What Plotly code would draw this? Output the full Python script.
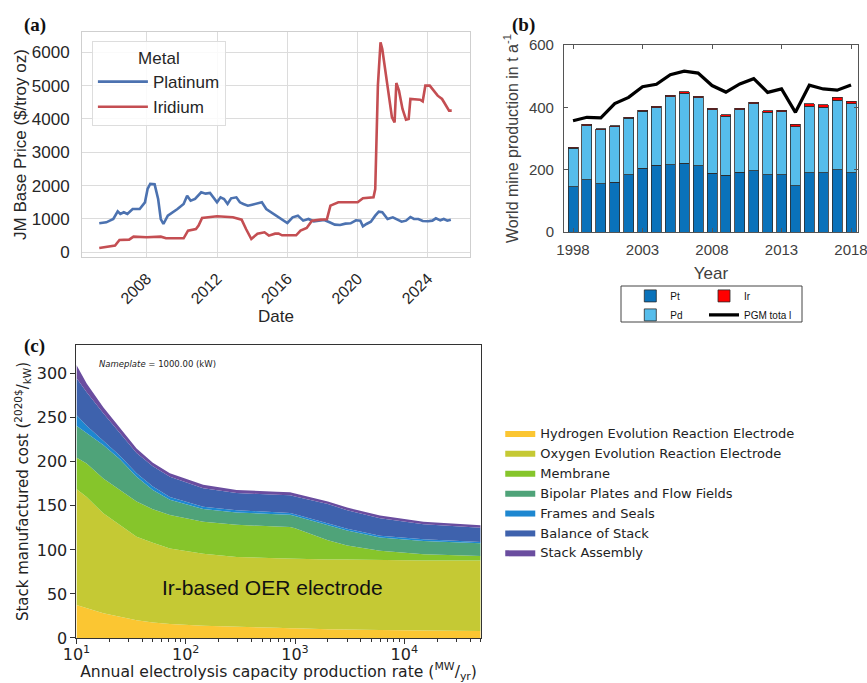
import plotly.graph_objects as go

# ---------------- (a) JM base price ----------------
pt_year = [2005.3, 2005.7, 2006.1, 2006.35, 2006.5, 2006.7, 2006.9, 2007.2, 2007.6, 2007.9,
           2008.05, 2008.2, 2008.45, 2008.65, 2008.8, 2008.95, 2009.2, 2009.5, 2009.75, 2010.1,
           2010.3, 2010.5, 2010.75, 2011.1, 2011.35, 2011.6, 2011.85, 2012.0, 2012.2, 2012.4,
           2012.6, 2012.8, 2013.1, 2013.3, 2013.5, 2013.75, 2014.0, 2014.3, 2014.55, 2014.8,
           2015.1, 2015.4, 2015.7, 2016.0, 2016.3, 2016.6, 2016.9, 2017.2, 2017.5, 2017.8,
           2018.1, 2018.4, 2018.7, 2019.0, 2019.3, 2019.6, 2019.9, 2020.15, 2020.3, 2020.5,
           2020.75, 2021.0, 2021.2, 2021.4, 2021.7, 2022.0, 2022.2, 2022.5, 2022.75, 2023.0,
           2023.2, 2023.45, 2023.7, 2024.0, 2024.25, 2024.45, 2024.7, 2024.9, 2025.1, 2025.3]
pt_price = [870, 900, 1000, 1230, 1150, 1200, 1150, 1300, 1300, 1500,
            1900, 2050, 2040, 1600, 1000, 850, 1100, 1200, 1300, 1450,
            1700, 1550, 1600, 1800, 1760, 1780, 1600, 1500, 1650, 1600,
            1450, 1620, 1650, 1500, 1450, 1400, 1430, 1460, 1500, 1300,
            1200, 1100, 1000, 880, 1050, 1100, 950, 1000, 930, 950,
            970, 900, 830, 820, 860, 870, 960, 950, 780, 850,
            920, 1100, 1220, 1200, 1000, 1050, 1000, 920, 950, 1060,
            1000, 1000, 940, 930, 950, 1020, 960, 1000, 950, 980]

ir_year = [2005.3, 2005.9, 2006.2, 2006.45, 2007.0, 2007.25, 2008.0, 2008.8, 2009.1, 2010.1,
           2010.35, 2010.8, 2010.95, 2011.15, 2011.6, 2012.0, 2012.9, 2013.4, 2013.65, 2013.95,
           2014.3, 2014.7, 2014.95, 2015.3, 2015.5, 2015.7, 2016.5, 2016.75, 2017.1, 2017.4,
           2017.9, 2018.25, 2018.45, 2018.9, 2020.0, 2020.3, 2020.9, 2021.0, 2021.15, 2021.3,
           2021.4, 2021.6, 2021.8, 2021.95, 2022.1, 2022.2, 2022.35, 2022.55, 2022.75, 2022.9,
           2023.0, 2023.55, 2023.7, 2023.85, 2024.1, 2024.3, 2024.55, 2024.8, 2025.05, 2025.2,
           2025.35]
ir_price = [130, 170, 200, 370, 380, 470, 450, 470, 420, 420,
            650, 700, 800, 1030, 1050, 1080, 1050, 980, 700, 400,
            560, 600, 500, 560, 560, 510, 510, 650, 730, 950,
            980, 990, 1400, 1500, 1500, 1620, 1650, 1900, 5000, 6300,
            6100, 5400, 4600, 4050, 3900, 5080, 4850, 4300, 3980, 4000,
            4600, 4580, 4530, 5000, 5000, 4850, 4700, 4600, 4400, 4250,
            4250]
a_ticks = [2008, 2012, 2016, 2020, 2024]

# ---------------- (b) World mine production ----------------
years_b = list(range(1998, 2019))
pt_prod = [146, 168, 155, 160, 184, 205, 214, 216, 221, 213, 189, 182, 192, 196, 184, 184, 149, 190, 190, 199, 190]
pd_prod = [122, 173, 173, 177, 181, 182, 185, 218, 225, 218, 203, 190, 200, 215, 200, 202, 189, 214, 210, 223, 221]
ir_prod = [4, 4, 4, 4, 4, 4, 4, 4, 4, 4, 5, 5, 5, 5, 5, 5, 7, 8, 9, 10, 8]
pgm_total = [357, 368, 366, 412, 432, 466, 474, 505, 516, 510, 470, 449, 475, 492, 448, 459, 384, 471, 459, 455, 472]
b_ticks = [1998, 2003, 2008, 2013, 2018]

# ---------------- (c) Stack manufactured cost ----------------
rate = [10, 12.4, 17.6, 25, 35.5, 50, 71.6, 144.5, 292, 679, 900, 1000, 2000, 3000, 6000, 15000, 50000]
her = [37.5, 34, 28, 24, 20, 17.5, 16, 14, 12.5, 11.5, 11, 11, 10, 9.5, 9, 8.5, 8]
oer = [131.5, 126, 113.5, 104, 95, 90.5, 85.5, 81.5, 79.5, 79, 79, 79, 79, 79.5, 79.5, 79.5, 80]
membrane = [36, 38, 39.5, 40, 40, 38, 38, 36.5, 36.5, 36, 36, 34.5, 22, 16, 10.5, 7, 5]
bipolar = [36, 35, 38, 35, 28, 22, 17.5, 14.5, 14, 14, 14, 14, 17, 17, 15, 15, 14.5]
frames = [12, 8, 5, 4, 4, 4, 3, 2.5, 2.5, 2, 2, 2, 2, 2, 2, 2, 1.5]
balance = [42, 38, 31, 26, 23, 23, 23, 21, 19.5, 20, 20, 20, 22, 21, 20, 17, 16]
assembly = [15, 10, 7, 5, 5, 4, 4, 4, 3.5, 3.5, 3.5, 3.5, 3, 3, 3, 3, 3]
c_names = ["Hydrogen Evolution Reaction Electrode", "Oxygen Evolution Reaction Electrode", "Membrane",
           "Bipolar Plates and Flow Fields", "Frames and Seals", "Balance of Stack", "Stack Assembly"]
c_colors = ["#FBC632", "#C5C934", "#86C52B", "#4FA379", "#1E87D0", "#3E62AD", "#6A4D9F"]
c_x_ticks = [10, 100, 1000, 10000]
c_x_text = ["10<sup>1</sup>", "10<sup>2</sup>", "10<sup>3</sup>", "10<sup>4</sup>"]
c_y_ticks = [0, 50, 100, 150, 200, 250, 300]

SANS = "Liberation Sans, Arial, sans-serif"
DEJA = "DejaVu Sans, sans-serif"
SERIF = "Liberation Serif, Times New Roman, serif"

fig = go.Figure()

# (a)
fig.add_trace(go.Scatter(x=pt_year, y=pt_price, name="Platinum", mode="lines",
                         line=dict(color="#4C72B0", width=2.6), xaxis="x", yaxis="y", legend="legend"))
fig.add_trace(go.Scatter(x=ir_year, y=ir_price, name="Iridium", mode="lines",
                         line=dict(color="#C44E52", width=2.6), xaxis="x", yaxis="y", legend="legend"))

# (b)
bar_line = dict(color="#2a2a2a", width=0.8)
fig.add_trace(go.Bar(x=years_b, y=pt_prod, name="Pt", width=0.72,
                     marker=dict(color="#0A72BA", line=bar_line), xaxis="x2", yaxis="y2", legend="legend2"))
fig.add_trace(go.Bar(x=years_b, y=pd_prod, name="Pd", width=0.72,
                     marker=dict(color="#56BDEB", line=bar_line), xaxis="x2", yaxis="y2", legend="legend2"))
fig.add_trace(go.Bar(x=years_b, y=ir_prod, name="Ir", width=0.72,
                     marker=dict(color="#FF0000", line=bar_line), xaxis="x2", yaxis="y2", legend="legend4"))
fig.add_trace(go.Scatter(x=years_b, y=pgm_total, name="PGM tota l", mode="lines",
                         line=dict(color="black", width=3.2), xaxis="x2", yaxis="y2", legend="legend4"))

# (c)
for name, vals, col in zip(c_names, [her, oer, membrane, bipolar, frames, balance, assembly], c_colors):
    fig.add_trace(go.Scatter(x=rate, y=vals, name=name, mode="lines", stackgroup="c", legendgroup=name,
                             line=dict(width=0, color=col), fillcolor=col,
                             xaxis="x3", yaxis="y3", legend="legend3"))

grid_a = "#dcdcdc"
fig.update_layout(
    width=867, height=683, margin=dict(l=0, r=0, t=0, b=0, autoexpand=False),
    paper_bgcolor="white", plot_bgcolor="white", barmode="stack",
    font=dict(family=SANS, color="#262626"),
    xaxis=dict(domain=[0.0946, 0.5421], anchor="y", range=[2004.32, 2026.39], automargin=False,
               tickmode="array", tickvals=a_ticks, ticktext=[str(t) for t in a_ticks], tickangle=-45,
               showgrid=True, gridcolor=grid_a, gridwidth=1.2, showline=True, mirror=True, linecolor="#cfcfcf",
               zeroline=False, ticks="", ticklabelstandoff=5, tickfont=dict(family=SANS, size=16, color="#262626"),
               title=dict(text="Date", standoff=2, font=dict(family=SANS, size=17, color="#262626"))),
    yaxis=dict(domain=[0.6237, 0.9531], anchor="x", range=[-141, 6609], automargin=False,
               tickmode="array", tickvals=[0, 1000, 2000, 3000, 4000, 5000, 6000],
               showgrid=True, gridcolor=grid_a, gridwidth=1.2, showline=True, mirror=True, linecolor="#cfcfcf",
               zeroline=False, ticks="", ticklabelstandoff=8, tickfont=dict(family=SANS, size=17, color="#262626"),
               title=dict(text="JM Base Price ($/troy oz)", standoff=0, font=dict(family=SANS, size=17, color="#262626"))),
    xaxis2=dict(domain=[0.6505, 0.9896], anchor="y2", range=[1997.35, 2018.5], automargin=False,
                tickmode="array", tickvals=b_ticks, showgrid=False, zeroline=False, ticklabeloverflow="allow",
                showline=True, mirror="ticks", linecolor="#555555", ticks="inside", ticklen=4, tickcolor="#555555",
                ticklabelstandoff=4, tickfont=dict(family=SANS, size=15, color="#404040"),
                title=dict(text="Year", standoff=10, font=dict(family=SANS, size=17, color="#404040"))),
    yaxis2=dict(domain=[0.6603, 0.9341], anchor="x2", range=[0, 600], automargin=False,
                tickmode="array", tickvals=[0, 200, 400, 600], showgrid=False, zeroline=False,
                showline=True, mirror="ticks", linecolor="#555555", ticks="inside", ticklen=4, tickcolor="#555555",
                ticklabelstandoff=6, tickfont=dict(family=SANS, size=15, color="#404040"),
                title=dict(text="World mine production in t a<sup>-1</sup>", standoff=6,
                           font=dict(family=SANS, size=16, color="#404040"))),
    xaxis3=dict(domain=[0.0882, 0.5544], anchor="y3", type="log", range=[1, 4.699], automargin=False,
                tickmode="array", tickvals=c_x_ticks, ticktext=c_x_text, showgrid=False, zeroline=False,
                showline=True, mirror=True, linecolor="#333333", ticks="outside", ticklen=5, tickcolor="#333333",
                minor=dict(ticks="outside", ticklen=3, tickcolor="#333333", showgrid=False,
                           tickvals=[m * 10 ** k for k in range(1, 5) for m in range(2, 10)]),
                ticklabelstandoff=-3, tickfont=dict(family=DEJA, size=16, color="#222222"),
                title=dict(text="Annual electrolysis capacity production rate (<sup>MW</sup>/<sub>yr</sub>)", standoff=2,
                           font=dict(family=DEJA, size=15.6, color="#222222"))),
    yaxis3=dict(domain=[0.0659, 0.4949], anchor="x3", range=[0, 332.6], automargin=False,
                tickmode="array", tickvals=c_y_ticks, showgrid=False, zeroline=False,
                showline=True, mirror=True, linecolor="#333333", ticks="outside", ticklen=5, tickcolor="#333333",
                tickfont=dict(family=DEJA, size=16, color="#222222"),
                title=dict(text="Stack manufactured cost (<sup>2020$</sup>/<sub>kW</sub>)", standoff=4,
                           font=dict(family=DEJA, size=15, color="#222222"))),
    legend=dict(x=0.106, y=0.94, xanchor="left", yanchor="top", bgcolor="rgba(255,255,255,0.85)",
                bordercolor="#dddddd", borderwidth=1, itemwidth=50, font=dict(family=SANS, size=17, color="#262626"),
                title=dict(text="Metal", side="top center", font=dict(family=SANS, size=17, color="#262626"))),
    legend2=dict(x=0.727, y=0.588, xanchor="left", yanchor="top", bgcolor="rgba(0,0,0,0)", traceorder="normal",
                 borderwidth=0, font=dict(family=SANS, size=10, color="#111111"), tracegroupgap=0),
    legend4=dict(x=0.812, y=0.588, xanchor="left", yanchor="top", bgcolor="rgba(0,0,0,0)", traceorder="normal",
                 borderwidth=0, font=dict(family=SANS, size=10, color="#111111"), tracegroupgap=0),
    legend3=dict(x=0.577, y=0.388, xanchor="left", yanchor="top", bgcolor="rgba(0,0,0,0)", tracegroupgap=2,
                 borderwidth=0, font=dict(family=DEJA, size=13, color="#222222"), traceorder="normal"),
    showlegend=True,
)

# legend box of (b)
fig.add_shape(type="rect", xref="paper", yref="paper", x0=621 / 867, x1=802 / 867,
              y0=1 - 322 / 683, y1=1 - 286 / 683, line=dict(color="#444444", width=1), fillcolor="rgba(0,0,0,0)")

# panel labels and annotations
for txt, px, py in [("(a)", 22, 25), ("(b)", 510, 25), ("(c)", 22, 346)]:
    fig.add_annotation(text="<b>" + txt + "</b>", xref="paper", yref="paper", x=px / 867, y=1 - py / 683,
                       xanchor="left", yanchor="middle", showarrow=False,
                       font=dict(family=SERIF, size=19, color="#111111"))
fig.add_annotation(text="<i>Nameplate</i> = 1000.00 (kW)", xref="paper", yref="paper", x=97 / 867, y=1 - 364 / 683,
                   xanchor="left", yanchor="middle", showarrow=False, font=dict(family=DEJA, size=8.5, color="#222222"))
fig.add_annotation(text="Ir-based OER electrode", xref="x3", yref="y3", x=2.79, y=57, showarrow=False,
                   font=dict(family=SANS, size=21, color="#111111"))

fig.write_html("out.html", config={"displayModeBar": False},
               post_script="document.body.style.margin='0px';document.body.style.overflow='hidden';")
